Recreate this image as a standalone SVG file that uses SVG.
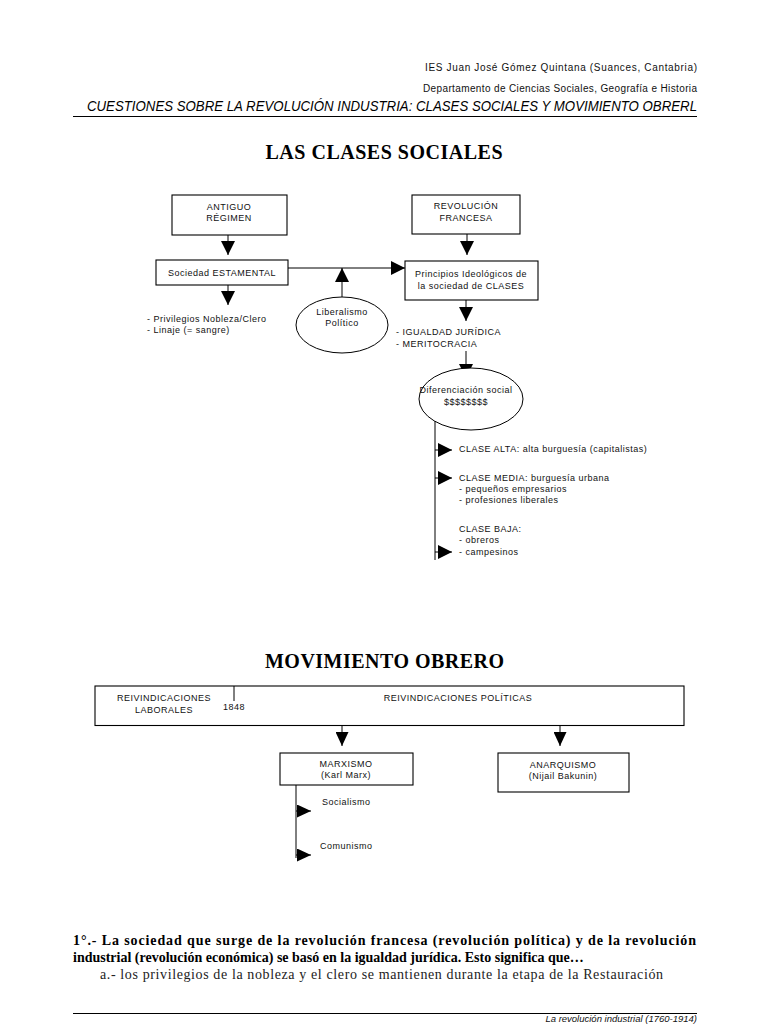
<svg xmlns="http://www.w3.org/2000/svg" width="768" height="1024" viewBox="0 0 768 1024">
<style>
.bg{fill:#fff}
.box{fill:#fff;stroke:#000;stroke-width:1.1}
.ell{fill:#fff;stroke:#000;stroke-width:1}
.ln{fill:none;stroke:#000;stroke-width:1}
.t{font-family:"Liberation Sans",Arial,sans-serif;font-size:9px;letter-spacing:0.5px;fill:#111}
.c{text-anchor:middle}
.hd{font-family:"Liberation Sans",Arial,sans-serif;font-size:10px;fill:#111;text-anchor:end}
.cu{font-family:"Liberation Sans",Arial,sans-serif;font-size:14px;font-style:italic;fill:#000}
.ti{font-family:"Liberation Serif","Times New Roman",serif;font-size:20px;font-weight:bold;fill:#000;text-anchor:middle}
.qb{font-family:"Liberation Serif","Times New Roman",serif;font-size:14px;font-weight:bold;fill:#000}
.qr{font-family:"Liberation Serif","Times New Roman",serif;font-size:14px;fill:#222}
.ft{font-family:"Liberation Sans",Arial,sans-serif;font-size:9.5px;font-style:italic;fill:#111;text-anchor:end}
</style>
<defs>
<marker id="arr" markerUnits="userSpaceOnUse" markerWidth="14" markerHeight="14" refX="14" refY="7" orient="auto">
<path d="M0,0 L14,7 L0,14 z" fill="#000"/>
</marker>
<marker id="arrs" markerUnits="userSpaceOnUse" markerWidth="14" markerHeight="13" refX="14" refY="6.5" orient="auto">
<path d="M0,0 L14,6.5 L0,13 z" fill="#000"/>
</marker>
</defs>
<rect class="bg" x="0" y="0" width="768" height="1024"/>

<g id="header">
<text class="hd" x="697" y="71" textLength="272">IES Juan José Gómez Quintana (Suances, Cantabria)</text>
<text class="hd" x="697" y="92" textLength="274">Departamento de Ciencias Sociales, Geografía e Historia</text>
<text class="cu" x="87" y="111" textLength="610" lengthAdjust="spacingAndGlyphs">CUESTIONES SOBRE LA REVOLUCIÓN INDUSTRIA: CLASES SOCIALES Y MOVIMIENTO OBRERL</text>
<line class="ln" x1="73" y1="116.5" x2="697" y2="116.5" stroke-width="1.3"/>
<text class="ti" x="384" y="159" textLength="237">LAS CLASES SOCIALES</text>
</g>

<g id="connectors">
<line class="ln" x1="228" y1="235" x2="228" y2="255" marker-end="url(#arr)"/>
<line class="ln" x1="228" y1="285" x2="228" y2="305" marker-end="url(#arr)"/>
<line class="ln" x1="467" y1="234" x2="467" y2="255" marker-end="url(#arr)"/>
<line class="ln" x1="288" y1="268" x2="405" y2="268" marker-end="url(#arr)"/>
<line class="ln" x1="342" y1="297" x2="342" y2="268" marker-end="url(#arr)"/>
<line class="ln" x1="466" y1="300" x2="466" y2="321" marker-end="url(#arr)"/>
<line class="ln" x1="466" y1="351" x2="466" y2="378" marker-end="url(#arr)"/>
<line class="ln" x1="435" y1="412" x2="435" y2="560"/>
<line class="ln" x1="435" y1="450" x2="452" y2="450" marker-end="url(#arr)"/>
<line class="ln" x1="435" y1="478" x2="452" y2="478" marker-end="url(#arr)"/>
<line class="ln" x1="435" y1="552" x2="452" y2="552" marker-end="url(#arr)"/>
<line class="ln" x1="342" y1="725" x2="342" y2="746" marker-end="url(#arrs)"/>
<line class="ln" x1="560" y1="725" x2="560" y2="746" marker-end="url(#arrs)"/>
<line class="ln" x1="296" y1="785" x2="296" y2="858"/>
<line class="ln" x1="296" y1="811" x2="311" y2="811" marker-end="url(#arrs)"/>
<line class="ln" x1="296" y1="855" x2="311" y2="855" marker-end="url(#arrs)"/>
</g>

<g id="antiguo">
<rect class="box" x="172" y="195" width="115" height="40"/>
<text class="t c" x="229" y="209.5">ANTIGUO</text>
<text class="t c" x="229" y="221">RÉGIMEN</text>
</g>
<g id="estamental">
<rect class="box" x="156" y="260" width="132" height="25"/>
<text class="t c" x="222" y="275.5">Sociedad ESTAMENTAL</text>
</g>
<g id="privilegios">
<text class="t" x="147" y="322">- Privilegios Nobleza/Clero</text>
<text class="t" x="147" y="333">- Linaje (= sangre)</text>
</g>
<g id="revolucion">
<rect class="box" x="412" y="195" width="108" height="39"/>
<text class="t c" x="466" y="209">REVOLUCIÓN</text>
<text class="t c" x="466" y="220.5">FRANCESA</text>
</g>
<g id="principios">
<rect class="box" x="405" y="261" width="133" height="39"/>
<text class="t c" x="471" y="277">Principios Ideológicos de</text>
<text class="t c" x="471" y="288.5">la sociedad de CLASES</text>
</g>
<g id="liberalismo">
<ellipse class="ell" cx="342" cy="325" rx="46" ry="28"/>
<text class="t c" x="342" y="314.5">Liberalismo</text>
<text class="t c" x="342" y="326">Político</text>
</g>
<g id="igualdad">
<text class="t" x="396" y="334.5">- IGUALDAD JURÍDICA</text>
<text class="t" x="396" y="346.5">- MERITOCRACIA</text>
</g>
<g id="diferenciacion">
<ellipse class="ell" cx="471" cy="399" rx="52" ry="31"/>
<text class="t c" x="466" y="392.5">Diferenciación social</text>
<text class="t c" x="466" y="404.5">$$$$$$$$</text>
</g>
<g id="clases">
<text class="t" x="459" y="451.5">CLASE ALTA: alta burguesía (capitalistas)</text>
<text class="t" x="459" y="480.5">CLASE MEDIA: burguesía urbana</text>
<text class="t" x="459" y="492">- pequeños empresarios</text>
<text class="t" x="459" y="503">- profesiones liberales</text>
<text class="t" x="459" y="531.5">CLASE BAJA:</text>
<text class="t" x="459" y="543">- obreros</text>
<text class="t" x="459" y="554.5">- campesinos</text>
</g>

<g id="movimiento-title">
<text class="ti" x="384.5" y="668" textLength="239">MOVIMIENTO OBRERO</text>
</g>
<g id="reivindicaciones">
<rect class="box" x="95" y="686" width="589" height="39.5"/>
<line class="ln" x1="234" y1="686" x2="234" y2="701"/>
<text class="t c" x="164" y="700.5">REIVINDICACIONES</text>
<text class="t c" x="164" y="712.5">LABORALES</text>
<text class="t" x="223" y="709.5" letter-spacing="0">1848</text>
<text class="t c" x="458" y="700.5">REIVINDICACIONES POLÍTICAS</text>
</g>
<g id="marxismo">
<rect class="box" x="280" y="753" width="133" height="32"/>
<text class="t c" x="346" y="766.5">MARXISMO</text>
<text class="t c" x="346" y="777.5">(Karl Marx)</text>
</g>
<g id="socialismo">
<text class="t" x="322" y="805">Socialismo</text>
</g>
<g id="comunismo">
<text class="t" x="320" y="849">Comunismo</text>
</g>
<g id="anarquismo">
<rect class="box" x="498" y="753" width="131" height="39"/>
<text class="t c" x="563" y="767.5">ANARQUISMO</text>
<text class="t c" x="563" y="778.5">(Nijail Bakunin)</text>
</g>

<g id="question">
<text class="qb" x="73" y="944.5" textLength="623">1°.- La sociedad que surge de la revolución francesa (revolución política) y de la revolución</text>
<text class="qb" x="73" y="961.5">industrial (revolución económica) se basó en la igualdad jurídica. Esto significa que…</text>
<text class="qr" x="100" y="978.5" textLength="563">a.- los privilegios de la nobleza y el clero se mantienen durante la etapa de la Restauración</text>
</g>

<g id="footer">
<line class="ln" x1="73" y1="1013.5" x2="697" y2="1013.5" stroke-width="1.3"/>
<text class="ft" x="697" y="1021.5">La revolución industrial (1760-1914)</text>
</g>
</svg>
